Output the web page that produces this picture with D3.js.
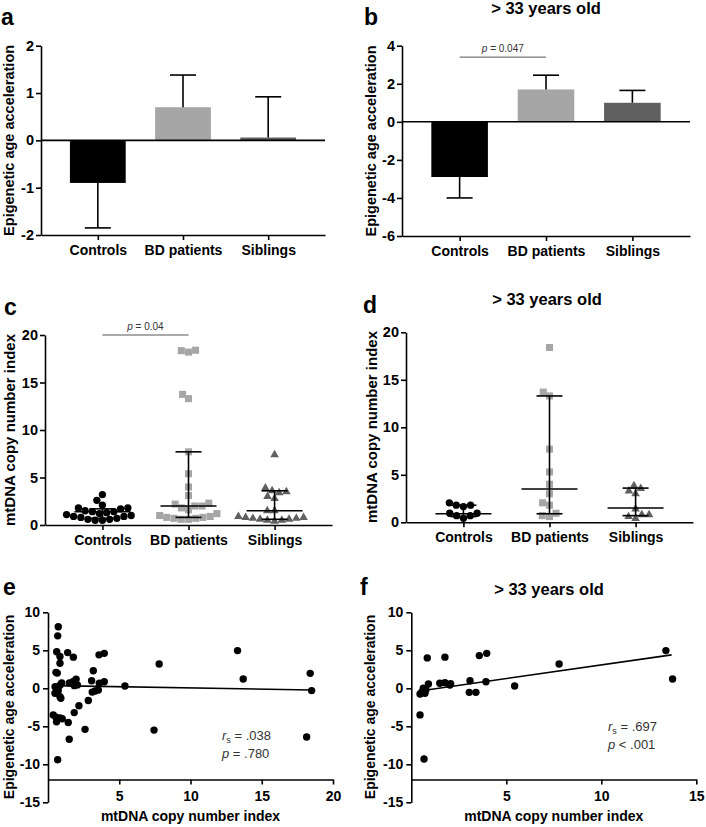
<!DOCTYPE html>
<html><head><meta charset="utf-8">
<script src="https://cdn.jsdelivr.net/npm/d3@7"></script>
<style>
body{margin:0;background:#fff;}
svg{display:block;font-family:"Liberation Sans",Arial,sans-serif;}
</style></head><body>
<svg id="fig" width="706" height="827"></svg>
<script>
// ---------- DATA ----------
const categories = ["Controls", "BD patients", "Siblings"];
const groupColors = ["#000000", "#a6a6a6", "#606060"];

// Panel a: mean epigenetic age acceleration and error bar end
const meanA = [-0.9, 0.7, 0.06];
const errA = [-1.85, 1.38, 0.92];
const ticksA = [-2, -1, 0, 1, 2];

// Panel b (> 33 years old)
const meanB = [-2.9, 1.7, 1.0];
const errB = [-4.0, 2.45, 1.65];
const ticksB = [-6, -4, -2, 0, 2, 4];
const pTextB = "= 0.047";
const sigLevelB = 3.4;

// Panel c: mtDNA copy number index
const ctrlC = [3.2, 2.6, 2.1, 1.8, 1.8, 1.7, 1.5, 1.4, 1.4, 1.3, 1.2, 1.1, 1.0, 0.9, 0.9, 0.8, 0.7, 0.6, 0.6, 0.5, 0.5];
const bdC = [18.4, 18.35, 18.2, 13.75, 13.3, 7.7, 5.4, 4.0, 3.1, 2.3, 2.2, 2.0, 2.0, 1.8, 1.6, 1.2, 1.0, 0.9, 0.8, 0.8, 0.7, 0.7, 0.6, 0.6];
const sibC = [7.4, 3.9, 3.6, 3.5, 3.4, 3.0, 2.8, 1.5, 1.5, 0.9, 0.8, 0.8, 0.7, 0.7, 0.6, 0.6, 0.5, 0.5, 0.4];
const medianC = [1.4, 2.0, 1.5];
const q1C = [0.7, 0.8, 0.6];
const q3C = [1.7, 7.7, 3.6];
const pTextC = "= 0.04";
const sigLevelC = 20;
const ticksCD = [0, 5, 10, 15, 20];

// Panel d (> 33 years old)
const ctrlD = [2.05, 1.8, 1.8, 1.65, 0.95, 0.95, 0.7, 0.7, 0.42];
const bdD = [18.4, 13.7, 13.3, 7.7, 5.3, 4.0, 3.0, 2.05, 1.8, 0.95, 0.7, 0.6];
const sibD = [3.85, 3.55, 3.3, 3.0, 1.4, 0.8, 0.8, 0.6, 0.4];
const medianD = [0.9, 3.5, 1.5];
const q1D = [0.6, 0.9, 0.7];
const q3D = [1.8, 13.3, 3.6];

// Panel e: correlation, all subjects
const copyE = [0.72,0.68,0.61,0.84,0.84,1.38,1.78,3.58,3.95,0.56,0.65,0.49,0.65,0.84,0.96,0.84,0.9,0.72,1.5,1.78,1.97,2.06,1.85,3.18,3.06,3.6,3.95,3.3,3.53,3.1,2.83,2.17,1.84,0.37,0.56,0.84,0.6,1.42,2.6,1.49,0.68,5.4,7.8,7.44,13.3,13.7,18.4,18.5,18.15,0.5,1.0];
const accelE = [8.1,6.9,4.8,4.2,3.3,4.7,4.1,4.4,4.6,2.1,2.0,-0.66,0.0,0.4,0.7,-1.1,-1.3,-0.3,0.7,0.9,1.2,0.45,0.35,2.3,1.0,0.66,0.87,-0.35,-0.22,-0.5,-1.6,-2.3,-3.2,-3.5,-3.8,-3.9,-4.4,-4.5,-5.4,-6.7,-9.4,0.3,3.2,-5.5,4.96,1.23,1.97,-0.3,-6.4,0.2,-4.0];
const fitXE = [0.49, 18.5];
const fitYE = [0.35, -0.22];
const ticksXE = [5, 10, 15, 20];
const rsE = "= .038", pE = "= .780";

// Panel f (> 33 years old)
const copyF = [0.46,0.67,0.46,0.72,0.63,0.77,0.9,0.84,1.5,1.77,1.77,2.03,2.07,3.09,3.05,3.4,3.58,3.97,3.93,5.44,7.78,13.4,13.75,0.55];
const accelF = [-3.5,-9.3,-0.75,-0.66,0.0,-0.2,0.57,4.0,0.66,0.74,4.1,0.43,0.6,1.0,-0.53,-0.53,4.3,4.6,0.87,0.3,3.2,4.96,1.23,-0.5];
const fitXF = [0.44, 13.7];
const fitYF = [-0.35, 4.4];
const ticksXF = [5, 10, 15];
const rsF = "= .697", pF = "< .001";

const ticksEF = [-15, -10, -5, 0, 5, 10];

// ---------- DRAWING ----------
const svg = d3.select("#fig");
const SW = 1.6;

function styleAxis(g, fs) {
  g.select(".domain").attr("stroke", "#000").attr("stroke-width", SW);
  g.selectAll(".tick line").attr("stroke", "#000").attr("stroke-width", SW);
  g.selectAll(".tick text").attr("fill", "#000").attr("font-size", fs)
    .attr("font-weight", "bold").attr("font-family", '"Liberation Sans", Arial, sans-serif');
}
function letter(t, x, y) {
  svg.append("text").attr("x", x).attr("y", y).attr("font-size", 23)
    .attr("font-weight", "bold").text(t);
}
function title(x, y) {
  svg.append("text").attr("x", x).attr("y", y).attr("text-anchor", "middle")
    .attr("font-size", 16.5).attr("font-weight", "bold").text("> 33 years old");
}
function yLabel(t, x, yc, fs) {
  svg.append("text").attr("transform", `translate(${x},${yc}) rotate(-90)`)
    .attr("text-anchor", "middle").attr("font-size", fs).attr("font-weight", "bold").text(t);
}
function sigBar(x1, x2, yy, txt) {
  svg.append("line").attr("x1", x1).attr("x2", x2).attr("y1", yy).attr("y2", yy)
    .attr("stroke", "#555").attr("stroke-width", 1);
  const t = svg.append("text").attr("x", (x1 + x2) / 2).attr("y", yy - 5.5)
    .attr("text-anchor", "middle").attr("font-size", 10).attr("fill", "#333");
  t.append("tspan").attr("font-style", "italic").text("p");
  t.append("tspan").text(" " + txt);
}
const fmt = d => String(d);

function barPanel(f, means, errs, ticks, sig) {
  const x = d3.scalePoint().domain(categories).range([f.l, f.r]).padding(0.667);
  const y = d3.scaleLinear().domain(f.dom).range([f.b, f.t]);
  const bw = x.step() * 0.655;
  svg.append("g").selectAll("rect").data(categories).join("rect")
    .attr("x", d => x(d) - bw / 2).attr("width", bw)
    .attr("y", (d, i) => y(Math.max(0, means[i])))
    .attr("height", (d, i) => Math.abs(y(means[i]) - y(0)))
    .attr("fill", (d, i) => groupColors[i]);
  const eb = svg.append("g").attr("stroke", "#000").attr("stroke-width", SW);
  categories.forEach((c, i) => {
    eb.append("line").attr("x1", x(c)).attr("x2", x(c)).attr("y1", y(means[i])).attr("y2", y(errs[i]));
    eb.append("line").attr("x1", x(c) - 13).attr("x2", x(c) + 13).attr("y1", y(errs[i])).attr("y2", y(errs[i]));
  });
  svg.append("line").attr("x1", f.l).attr("x2", f.r).attr("y1", y(0)).attr("y2", y(0))
    .attr("stroke", "#000").attr("stroke-width", SW);
  const ya = svg.append("g").attr("transform", `translate(${f.l},0)`)
    .call(d3.axisLeft(y).tickValues(ticks).tickFormat(fmt).tickSize(5).tickSizeOuter(0).tickPadding(2));
  styleAxis(ya, 14.5);
  const xa = svg.append("g").attr("transform", `translate(0,${f.b})`)
    .call(d3.axisBottom(x).tickSize(5).tickSizeOuter(0).tickPadding(5));
  styleAxis(xa, 14);
  if (sig) sigBar(x(categories[0]), x(categories[1]), y(sig.level), sig.text);
}

function swarm(ys, d) {
  const idx = d3.range(ys.length).sort((a, b) => ys[b] - ys[a]);
  const placed = [], off = new Array(ys.length);
  idx.forEach(i => {
    const yi = ys[i];
    const near = placed.filter(p => Math.abs(p.y - yi) < d);
    const cands = [0];
    near.forEach(p => { const dx = Math.sqrt(d * d - (p.y - yi) ** 2); cands.push(p.x + dx, p.x - dx); });
    cands.sort((a, b) => Math.abs(a) - Math.abs(b) || a - b);
    const xo = cands.find(c => near.every(p => (c - p.x) ** 2 + (p.y - yi) ** 2 >= d * d - 0.01));
    off[i] = xo; placed.push({ x: xo, y: yi });
  });
  return off;
}

const symbolTypes = [d3.symbolCircle, d3.symbolSquare, d3.symbolTriangle];
const symbolSizes = [42, 50, 32];

function dotPanel(f, groups, med, q1, q3, sig) {
  const x = d3.scalePoint().domain(categories).range([f.l, f.r]).padding(0.667);
  const y = d3.scaleLinear().domain([0, 20]).range([f.b, f.t]);
  groups.forEach((vals, i) => {
    const cx = x(categories[i]);
    const offs = swarm(vals.map(v => y(v)), 7.3);
    svg.append("g").selectAll("path").data(vals).join("path")
      .attr("transform", (v, j) => `translate(${cx + offs[j]},${y(v)})`)
      .attr("d", d3.symbol().type(symbolTypes[i]).size(symbolSizes[i]))
      .attr("fill", groupColors[i]);
  });
  const g = svg.append("g").attr("stroke", "#000").attr("stroke-width", SW);
  categories.forEach((c, i) => {
    const cx = x(c);
    g.append("line").attr("x1", cx - 28).attr("x2", cx + 28).attr("y1", y(med[i])).attr("y2", y(med[i]));
    g.append("line").attr("x1", cx).attr("x2", cx).attr("y1", y(q1[i])).attr("y2", y(q3[i]));
    [q1[i], q3[i]].forEach(v => g.append("line").attr("x1", cx - 13).attr("x2", cx + 13).attr("y1", y(v)).attr("y2", y(v)));
  });
  const ya = svg.append("g").attr("transform", `translate(${f.l},0)`)
    .call(d3.axisLeft(y).tickValues(ticksCD).tickFormat(fmt).tickSize(5).tickSizeOuter(0).tickPadding(2));
  styleAxis(ya, 14.5);
  const xa = svg.append("g").attr("transform", `translate(0,${f.b})`)
    .call(d3.axisBottom(x).tickSize(5).tickSizeOuter(0).tickPadding(5));
  styleAxis(xa, 14);
  if (sig) sigBar(x(categories[0]), x(categories[1]), y(sig.level), sig.text);
}

function xyPanel(f, xs, ys, fx, fy, xticks, rs, pv) {
  const x = d3.scaleLinear().domain(f.xdom).range([f.l, f.r]);
  const y = d3.scaleLinear().domain([-15, 10]).range([f.b, f.t]);
  svg.append("g").selectAll("circle").data(xs).join("circle")
    .attr("cx", d => x(d)).attr("cy", (d, i) => y(ys[i])).attr("r", 3.7).attr("fill", "#000");
  svg.append("line").attr("x1", x(fx[0])).attr("x2", x(fx[1])).attr("y1", y(fy[0])).attr("y2", y(fy[1]))
    .attr("stroke", "#000").attr("stroke-width", SW);
  const ya = svg.append("g").attr("transform", `translate(${f.l},0)`)
    .call(d3.axisLeft(y).tickValues(ticksEF).tickFormat(fmt).tickSize(5).tickSizeOuter(0).tickPadding(3));
  styleAxis(ya, 14);
  const xa = svg.append("g").attr("transform", `translate(0,${y(-12)})`)
    .call(d3.axisBottom(x).tickValues(xticks).tickFormat(fmt).tickSize(5).tickSizeOuter(0).tickPadding(7));
  styleAxis(xa, 14);
  svg.append("text").attr("x", (f.l + f.r) / 2).attr("y", 821).attr("text-anchor", "middle")
    .attr("font-size", 14).attr("font-weight", "bold").text("mtDNA copy number index");
  const t1 = svg.append("text").attr("x", f.sx).attr("y", f.sy).attr("font-size", 13).attr("fill", "#333");
  t1.append("tspan").attr("font-style", "italic").text("r");
  t1.append("tspan").attr("font-size", 9).attr("dy", 3).text("s");
  t1.append("tspan").attr("dy", -3).text(" " + rs);
  const t2 = svg.append("text").attr("x", f.sx).attr("y", f.sy + 18).attr("font-size", 13).attr("fill", "#333");
  t2.append("tspan").attr("font-style", "italic").text("p");
  t2.append("tspan").text(" " + pv);
}

// Panel a
letter("a", 1, 25);
yLabel("Epigenetic age acceleration", 14, 140.4, 14.5);
barPanel({ l: 41, r: 325, t: 45.7, b: 235, dom: [-2, 2] }, meanA, errA, ticksA, null);
// Panel b
letter("b", 364, 25);
title(546, 13.5);
yLabel("Epigenetic age acceleration", 376, 141, 14.5);
barPanel({ l: 402, r: 690, t: 45.7, b: 236, dom: [-6, 4] }, meanB, errB, ticksB, { level: sigLevelB, text: pTextB });
// Panel c
letter("c", 4, 315);
yLabel("mtDNA copy number index", 14.5, 430, 15);
dotPanel({ l: 45, r: 332, t: 335, b: 525 }, [ctrlC, bdC, sibC], medianC, q1C, q3C, { level: sigLevelC, text: pTextC });
// Panel d
letter("d", 363, 313);
title(547, 305);
yLabel("mtDNA copy number index", 377, 427, 15);
dotPanel({ l: 406, r: 693, t: 332.3, b: 522.3 }, [ctrlD, bdD, sibD], medianD, q1D, q3D, null);
// Panel e
letter("e", 3, 595);
yLabel("Epigenetic age acceleration", 13.5, 707, 14);
xyPanel({ l: 48, r: 333, t: 612.3, b: 802.3, xdom: [0, 20], sx: 222, sy: 740 }, copyE, accelE, fitXE, fitYE, ticksXE, rsE, pE);
// Panel f
letter("f", 360, 595);
title(549, 595);
yLabel("Epigenetic age acceleration", 374.5, 707, 14);
xyPanel({ l: 411.3, r: 696.3, t: 612.3, b: 802.3, xdom: [0, 15], sx: 608, sy: 731 }, copyF, accelF, fitXF, fitYF, ticksXF, rsF, pF);
</script>
</body></html>
